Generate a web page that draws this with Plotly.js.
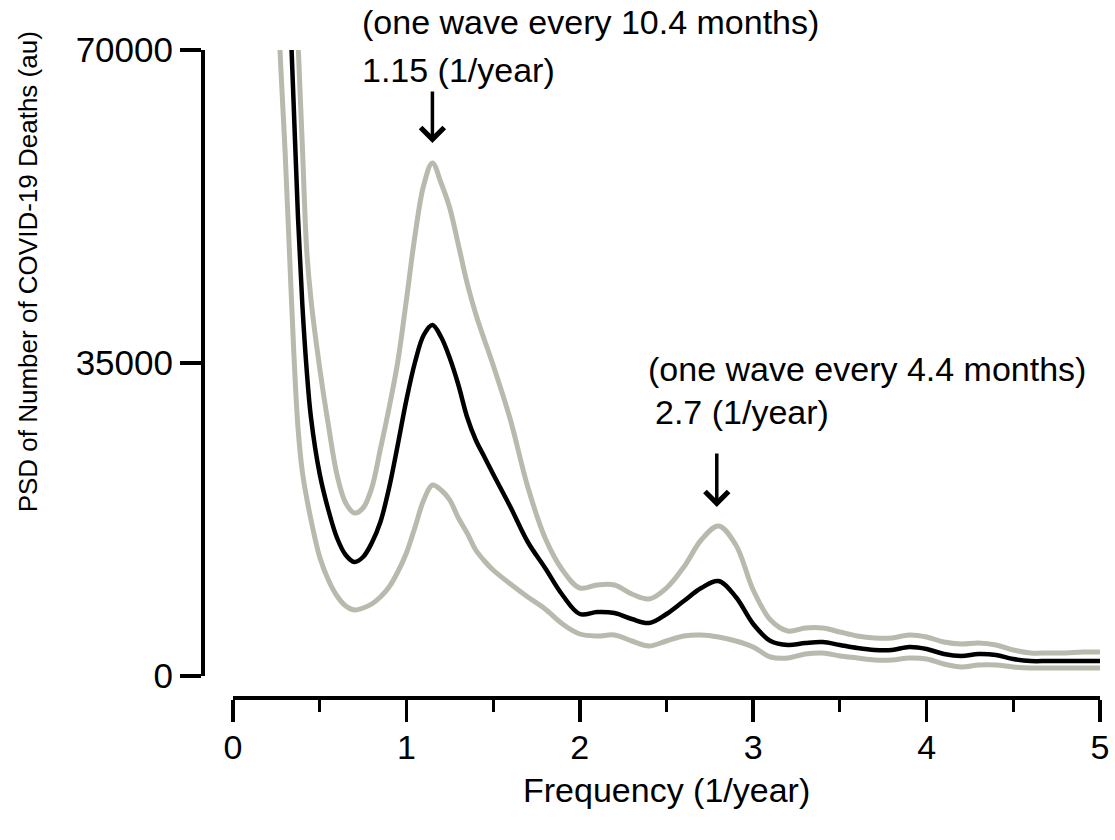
<!DOCTYPE html>
<html>
<head>
<meta charset="utf-8">
<script src="https://cdn.plot.ly/plotly-3.0.1.min.js"></script>
<style>
  html, body { margin: 0; padding: 0; background: #ffffff; }
  #chart { width: 1115px; height: 840px; }
</style>
</head>
<body>
<div id="chart"></div>
<script>
// ---- Data ----
// Frequency grid (1/year)
const freq = [0.25, 0.275, 0.3, 0.325, 0.35, 0.375, 0.4, 0.425, 0.45, 0.5, 0.55, 0.6, 0.65, 0.7, 0.75, 0.8, 0.85, 0.9, 0.95,
  1.0, 1.05, 1.1, 1.15, 1.2, 1.25, 1.3, 1.35, 1.4, 1.45, 1.5, 1.6, 1.7, 1.8, 1.9, 2.0, 2.1, 2.2, 2.3, 2.4, 2.5, 2.6, 2.7,
  2.8, 2.9, 3.0, 3.1, 3.2, 3.3, 3.4, 3.5, 3.6, 3.7, 3.8, 3.9, 4.0, 4.1, 4.2, 4.3, 4.4, 4.5, 4.6, 4.7, 4.8, 4.9, 5.0];

// Mean PSD (black)
const psdMean = [120000, 105000, 91200, 76600, 63850, 51214, 41485, 34217, 28850, 22588, 18562, 15431, 13530, 12748, 13307, 14872, 17220, 21022, 25830,
  30862, 35111, 38131, 39250, 37904, 35559, 32540, 28961, 26390, 24489, 22588, 18898, 14984, 12077, 9057, 6933, 7156, 7045, 6374, 5926, 6933, 8386, 9840,
  10623, 8834, 5815, 3914, 3466, 3690, 3802, 3466, 3131, 2907, 2907, 3243, 3019, 2460, 2236, 2460, 2348, 1901, 1677, 1677, 1677, 1677, 1677];

// Upper confidence bound (grey)
const psdUpper = [150000, 135000, 120000, 105000, 83640, 70894, 59265, 47635, 42045, 34441, 28067, 22476, 19345, 18227, 18786, 21022, 25383, 29968, 35111,
  42045, 49313, 54904, 57364, 55127, 52332, 48194, 43945, 40479, 37572, 34776, 28626, 21134, 15431, 11853, 9840, 10176, 10176, 9169, 8610, 9840, 12188, 15208,
  16773, 14648, 9617, 6262, 5032, 5367, 5367, 4920, 4473, 4249, 4249, 4585, 4361, 3802, 3578, 3690, 3466, 2907, 2572, 2572, 2572, 2684, 2684];

// Lower confidence bound (grey)
const psdLower = [78720, 68322, 58817, 47635, 36453, 27731, 22811, 19900, 17444, 13307, 10735, 8946, 7827, 7380, 7604, 8051, 8834, 9952, 11629,
  13754, 16661, 19680, 21357, 20799, 19680, 17668, 15990, 14089, 12859, 11853, 10287, 8834, 7492, 5815, 4696, 4473, 4585, 3914, 3355, 3914, 4473, 4585,
  4361, 3914, 3243, 2125, 2013, 2460, 2572, 2236, 2013, 1789, 1789, 2013, 1901, 1342, 1006, 1230, 1230, 1006, 895, 895, 895, 895, 895];

// Axis ticks
const xTicks = [0, 1, 2, 3, 4, 5];
const yTicks = [0, 35000, 70000];
const yTickText = ['0', '35000', '70000'];

// Peak annotations
const peakFreqs = [1.15, 2.79];
const peakLabels = ['1.15 (1/year)', '2.7 (1/year)'];
const waveLabels = ['(one wave every 10.4 months)', '(one wave every 4.4 months)'];

// ---- Plot ----
const FONT = 'Liberation Sans, Arial, sans-serif';
const GREY = '#b9b9ad';

const traces = [
  { x: freq, y: psdUpper, type: 'scatter', mode: 'lines', line: { color: GREY, width: 5, shape: 'spline', smoothing: 1 }, hoverinfo: 'skip' },
  { x: freq, y: psdLower, type: 'scatter', mode: 'lines', line: { color: GREY, width: 5, shape: 'spline', smoothing: 1 }, hoverinfo: 'skip' },
  { x: freq, y: psdMean, type: 'scatter', mode: 'lines', line: { color: '#000000', width: 4.5, shape: 'spline', smoothing: 1 }, hoverinfo: 'skip' }
];

const txtFont = { family: FONT, size: 34, color: '#000000' };

const annotations = [
  { xref: 'x', yref: 'paper', x: 2.059, y: 1.043, text: waveLabels[0], showarrow: false, xanchor: 'center', yanchor: 'middle', font: txtFont },
  { xref: 'x', yref: 'paper', x: 1.303, y: 0.969, text: peakLabels[0], showarrow: false, xanchor: 'center', yanchor: 'middle', font: txtFont },
  { xref: 'x', yref: 'paper', x: 3.659, y: 0.5077, text: waveLabels[1], showarrow: false, xanchor: 'center', yanchor: 'middle', font: txtFont },
  { xref: 'x', yref: 'paper', x: 2.934, y: 0.4414, text: peakLabels[1], showarrow: false, xanchor: 'center', yanchor: 'middle', font: txtFont },
  { xref: 'x', yref: 'paper', x: peakFreqs[0], y: 0.8565, text: '', showarrow: true, arrowhead: 4, arrowsize: 1.3, arrowwidth: 3.5, arrowcolor: '#000000', ax: 0, ay: -53, standoff: 0 },
  { xref: 'x', yref: 'paper', x: peakFreqs[1], y: 0.2948, text: '', showarrow: true, arrowhead: 4, arrowsize: 1.3, arrowwidth: 3.5, arrowcolor: '#000000', ax: 0, ay: -55, standoff: 0 },
  // axis titles
  { xref: 'x', yref: 'paper', x: 2.5, y: -0.1420, text: 'Frequency (1/year)', showarrow: false, xanchor: 'center', yanchor: 'middle', font: txtFont },
  { xref: 'paper', yref: 'paper', x: -0.191, y: 0.657, text: 'PSD of Number of COVID-19 Deaths (au)', textangle: -90, showarrow: false,
    xanchor: 'center', yanchor: 'middle', font: { family: FONT, size: 26, color: '#000000' } }
];

const layout = {
  width: 1115, height: 840,
  margin: { l: 200, r: 15, t: 50, b: 142 },
  paper_bgcolor: '#ffffff', plot_bgcolor: '#ffffff',
  showlegend: false,
  font: { family: FONT, size: 34, color: '#000000' },
  xaxis: {
    domain: [0.03667, 1], range: [0, 5], anchor: 'free', position: 0,
    showline: true, linewidth: 4, linecolor: '#000000',
    ticks: 'outside', ticklen: 22, tickwidth: 3.5, tickcolor: '#000000',
    tickvals: xTicks, ticktext: xTicks.map(String),
    ticklabelstandoff: -4,
    minor: { dtick: 0.5, tick0: 0, ticks: 'outside', ticklen: 12, tickwidth: 3, tickcolor: '#000000', showgrid: false },
    showgrid: false, zeroline: false,
    tickfont: { family: FONT, size: 34, color: '#000000' }
  },
  yaxis: {
    domain: [0.03395, 1], range: [0, 70000], anchor: 'free', position: 0.00333,
    showline: true, linewidth: 4.5, linecolor: '#000000',
    ticks: 'outside', ticklen: 21, tickwidth: 3.5, tickcolor: '#000000',
    tickvals: yTicks, ticktext: yTickText,
    showgrid: false, zeroline: false,
    tickfont: { family: FONT, size: 35, color: '#000000' }
  },
  annotations: annotations
};

Plotly.newPlot('chart', traces, layout, { displayModeBar: false, staticPlot: true });
</script>
</body>
</html>
